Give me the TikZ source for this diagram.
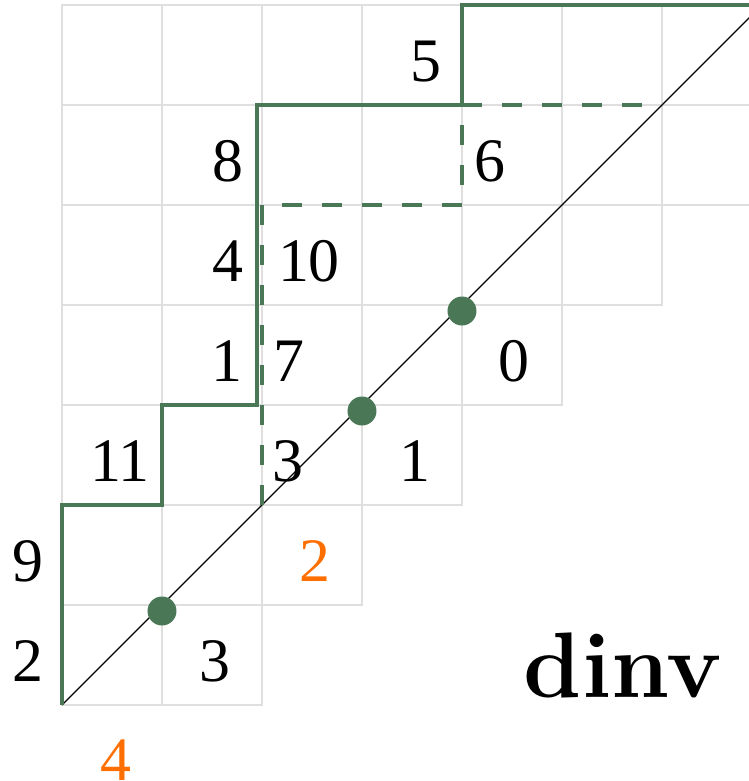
\documentclass[tikz,border=0pt]{standalone}
\usepackage{fontspec}
\setmainfont{Liberation Serif}
\newfontfamily\lmfont{Latin Modern Roman}
\usetikzlibrary{positioning}
\definecolor{pathgreen}{HTML}{4A7856}
\definecolor{areaorange}{HTML}{FF6F00}

\begin{document}
\begin{tikzpicture}[
  cell/.style={draw=gray!25,line width=0.5pt},
  dyck/.style={draw=pathgreen,line width=1.4pt},
  bounce/.style={draw=pathgreen,line width=1.2pt,dash pattern=on 2mm off 2mm},
  num/.style={font=\fontsize{17.6}{20}\selectfont,inner sep=0pt,anchor=base},
  area/.style={num,text=areaorange},
  dot/.style={circle,fill=pathgreen,minimum size=2.9mm,inner sep=0pt}
]
  \useasboundingbox (-0.62,-0.76) rectangle (6.87,7.05);
  % cells on and above the diagonal
  \foreach \r in {0,...,6} {
    \pgfmathtruncatemacro{\cmax}{min(\r+1,6)}
    \foreach \c in {0,...,\cmax}
      \draw[cell] (\c,\r) rectangle ++(1,1);
  }
  \coordinate (origin) at (0,0);
  \coordinate (corner) at (7,7);
  \draw[black,line width=0.4pt] (origin) -- (corner);
  % bounce path and Dyck path
  \draw[bounce] (2,2) -- (2,5) -- (4,5) -- (4,6) -- (6,6);
  \draw[dyck] (origin) -- (0,2) -- (1,2) -- (1,3) -- (1.95,3) -- (1.95,6) -- (4,6) -- (4,7) -- (corner);
  \node[dot] (touch1) at (1,0.94) {};
  \node[dot] (touch3) at (3,2.94) {};
  \node[dot] (touch4) at (4,3.94) {};
  % labels of the north steps
  \foreach \x/\y/\t [count=\i] in {-0.34/0/2,-0.34/1/9,0.58/2/11,1.65/3/1,1.66/4/4,1.66/5/8,3.64/6/5}
    \node[num] (left\i) at (\x,\y+0.24) {\t};
  \foreach \x/\y/\t [count=\i] in {2.26/2/3,2.27/3/7,2.47/4/10,4.28/5/6}
    \node[num] (right\i) at (\x,\y+0.24) {\t};
  % dinv counts below the diagonal
  \foreach \x/\y/\t [count=\i] in {1.53/0/3,3.53/2/1,4.52/3/0}
    \node[num] (below\i) at (\x,\y+0.24) {\t};
  \node[area] (area1) at (2.53,1.24) {2};
  \node[area] (area2) at (0.54,-0.75) {4};
  \node[font=\lmfont\fontsize{26.5}{30}\selectfont\bfseries,anchor=base,inner sep=0pt] (dinv) at (5.61,0.08) {dinv};
\end{tikzpicture}
\end{document}
